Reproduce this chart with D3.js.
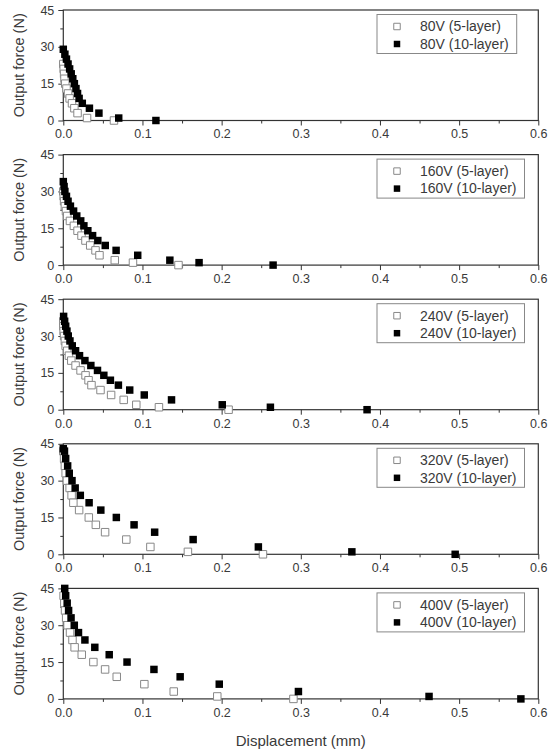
<!DOCTYPE html>
<html>
<head>
<meta charset='utf-8'>
<style>
body {
  margin: 0;
  background: #fff;
  font-family: Arial, "Liberation Sans", sans-serif;
}
svg text { fill: #3a3a3a; }
.axis line { stroke: #333; }
</style>
</head>
<body>
<svg width="558" height="753"></svg>
<script src="https://d3js.org/d3.v7.min.js"></script>
<script>

// panel labels
var voltages = ['80V', '160V', '240V', '320V', '400V'];
var xTicks = [0, 0.1, 0.2, 0.3, 0.4, 0.5, 0.6];
var yTicks = [0, 15, 30, 45];

// [displacement (mm), output force (N)]
var v80_5 = [[0,23],[0.0005,21],[0.001,19],[0.0015,17],[0.0025,15],[0.004,13],[0.006,11],[0.008,9],[0.011,7],[0.014,5],[0.018,3],[0.030,1],[0.064,0]];
var v80_10 = [[0,29],[0.002,27],[0.004,25],[0.006,23],[0.008,21],[0.010,19],[0.012,17],[0.014,15],[0.016,13],[0.018,11],[0.020,9],[0.024,7],[0.033,5],[0.045,3],[0.070,1],[0.117,0]];

var v160_5 = [[0,30],[0.0005,28],[0.001,26],[0.002,24],[0.0034,22],[0.005,20],[0.0084,18],[0.0134,16],[0.018,14],[0.023,12],[0.028,10],[0.034,8],[0.0407,6],[0.0457,4],[0.065,2],[0.088,1],[0.1455,0]];
var v160_10 = [[0,34],[0.001,32],[0.002,30],[0.004,28],[0.006,26],[0.009,24],[0.013,22],[0.017,20],[0.022,18],[0.026,16],[0.031,14],[0.037,12],[0.0436,10],[0.053,8],[0.0667,6],[0.094,4],[0.1346,2],[0.1715,1],[0.265,0]];

var v240_5 = [[0,36],[0,34],[0.0004,32],[0.001,30],[0.002,28],[0.003,26],[0.005,24],[0.0071,22],[0.0101,20],[0.0155,18],[0.0218,16],[0.0281,14],[0.0319,12],[0.0356,10],[0.047,8],[0.0604,6],[0.0763,4],[0.0922,2],[0.1208,1],[0.2088,0]];
var v240_10 = [[0.0004,38],[0.0017,36],[0.003,34],[0.0046,32],[0.0063,30],[0.0084,28],[0.0113,26],[0.0155,24],[0.0205,22],[0.0273,20],[0.0348,18],[0.0432,16],[0.0512,14],[0.0595,12],[0.0696,10],[0.0839,8],[0.1023,6],[0.1367,4],[0.2008,2],[0.2616,1],[0.3837,0]];

var v320_5 = [[0,42],[0.001,39],[0.002,36],[0.003,33],[0.0045,30],[0.008,27],[0.0105,24],[0.0127,21],[0.020,18],[0.0322,15],[0.0411,12],[0.0528,9],[0.0796,6],[0.110,3],[0.1574,1],[0.2522,0]];
var v320_10 = [[0,43],[0.0015,42],[0.003,39],[0.0055,36],[0.0075,33],[0.011,30],[0.015,27],[0.0215,24],[0.0326,21],[0.0474,18],[0.067,15],[0.0894,12],[0.1154,9],[0.164,6],[0.2464,3],[0.3645,1],[0.495,0]];

var v400_5 = [[0.0004,42],[0.0013,39],[0.0022,36],[0.0036,33],[0.0054,30],[0.0085,27],[0.0116,24],[0.0143,21],[0.0233,18],[0.038,15],[0.0528,12],[0.0675,9],[0.1024,6],[0.1395,3],[0.1945,1],[0.2907,0]];
var v400_10 = [[0.0018,45],[0.003,42],[0.0049,39],[0.0067,36],[0.0098,33],[0.0139,30],[0.0192,27],[0.0273,24],[0.0398,21],[0.058,18],[0.0805,15],[0.1145,12],[0.1476,9],[0.197,6],[0.297,3],[0.462,1],[0.578,0]];

var series5 = [v80_5, v160_5, v240_5, v320_5, v400_5];
var series10 = [v80_10, v160_10, v240_10, v320_10, v400_10];

var svg = d3.select('svg'),
    left = 63.3,
    right = 538.3,
    top0 = 10,
    pitch = 144.6,
    h = 110.5;

var x = d3.scaleLinear().domain([0, 0.6]).range([left, right]);
var y = d3.scaleLinear().domain([0, 45]).range([h, 0]);
var sym = d3.symbol().type(d3.symbolSquare).size(56);

voltages.forEach(function(v, i) {
  var g = svg.append('g').attr('transform', 'translate(0,' + (top0 + i * pitch) + ')');

  // minor ticks
  g.append('g').attr('class', 'axis')
    .attr('transform', 'translate(0,' + h + ')')
    .call(d3.axisBottom(x).tickValues(d3.range(0.05, 0.6, 0.1)).tickSize(3).tickFormat(''))
    .call(a => a.select('.domain').remove());
  g.append('g').attr('class', 'axis')
    .attr('transform', 'translate(' + left + ',0)')
    .call(d3.axisLeft(y).tickValues([7.5, 22.5, 37.5]).tickSize(3).tickFormat(''))
    .call(a => a.select('.domain').remove());

  // major ticks
  g.append('g').attr('class', 'axis')
    .attr('transform', 'translate(0,' + h + ')')
    .call(d3.axisBottom(x).tickValues(xTicks).tickSize(5).tickPadding(4).tickFormat(d3.format('.1f')))
    .call(a => a.select('.domain').remove())
    .selectAll('text').style('font-size', '12.5px').style('font-family', 'Arial, "Liberation Sans", sans-serif');
  g.append('g').attr('class', 'axis')
    .attr('transform', 'translate(' + left + ',0)')
    .call(d3.axisLeft(y).tickValues(yTicks).tickSize(5).tickPadding(4))
    .call(a => a.select('.domain').remove())
    .selectAll('text').style('font-size', '12.5px').style('font-family', 'Arial, "Liberation Sans", sans-serif');

  // frame
  g.append('rect')
    .attr('x', left).attr('y', 0)
    .attr('width', right - left).attr('height', h)
    .attr('fill', 'none').attr('stroke', '#333').attr('stroke-width', 1.2);

  // y title
  g.append('text')
    .attr('transform', 'translate(19,' + (h / 2) + ') rotate(-90)')
    .attr('text-anchor', 'middle')
    .attr('dy', '0.35em')
    .style('font-size', '14.5px')
    .text('Output force (N)');

  // points
  g.append('g').selectAll('path')
    .data(series5[i]).enter().append('path')
      .attr('d', sym)
      .attr('transform', d => 'translate(' + x(d[0]) + ',' + y(d[1]) + ')')
      .attr('fill', '#fff').attr('stroke', '#888').attr('stroke-width', 1);
  g.append('g').selectAll('path')
    .data(series10[i]).enter().append('path')
      .attr('d', sym)
      .attr('transform', d => 'translate(' + x(d[0]) + ',' + y(d[1]) + ')')
      .attr('fill', '#000');

  // legend
  var lg = g.append('g');
  var box = lg.append('rect')
    .attr('x', 377).attr('y', 4.5).attr('height', 39)
    .attr('fill', '#fff').attr('stroke', '#888').attr('stroke-width', 1);
  lg.append('path').attr('d', d3.symbol().type(d3.symbolSquare).size(42))
    .attr('transform', 'translate(397,16.5)')
    .attr('fill', '#fff').attr('stroke', '#888');
  lg.append('path').attr('d', d3.symbol().type(d3.symbolSquare).size(42))
    .attr('transform', 'translate(397,34)')
    .attr('fill', '#000');
  var t1 = lg.append('text').attr('x', 420).attr('y', 16.5).attr('dy', '0.35em')
    .style('font-size', '14px').text(v + ' (5-layer)');
  var t2 = lg.append('text').attr('x', 420).attr('y', 34).attr('dy', '0.35em')
    .style('font-size', '14px').text(v + ' (10-layer)');
  var w = Math.max(t1.node().getComputedTextLength(), t2.node().getComputedTextLength());
  box.attr('width', 420 + w + 8 - 377);
});

svg.append('text')
  .attr('x', (left + right) / 2).attr('y', 741)
  .attr('text-anchor', 'middle').attr('dy', '0.35em')
  .style('font-size', '15px')
  .text('Displacement (mm)');

</script>
</body>
</html>
